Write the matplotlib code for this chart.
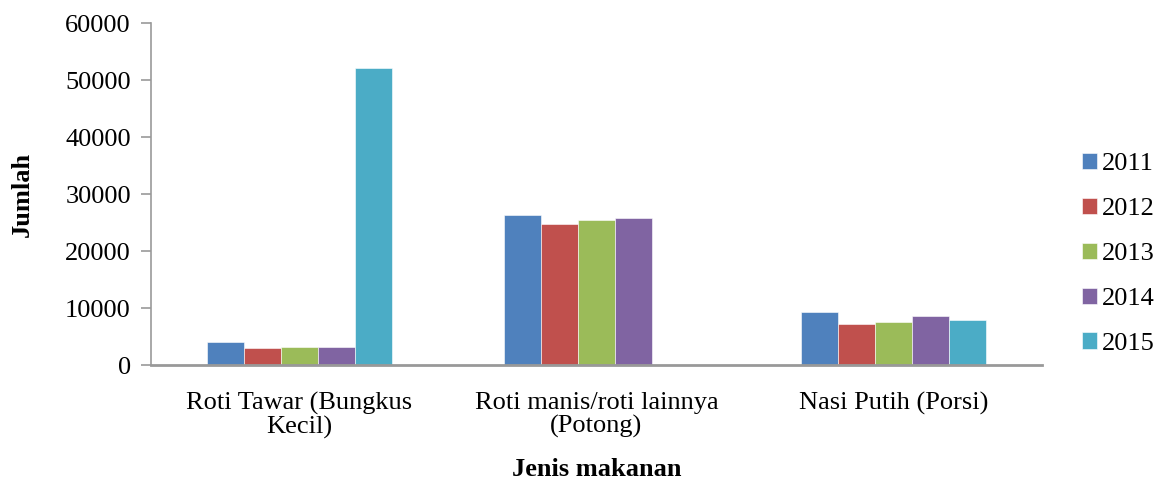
import matplotlib.pyplot as plt
import numpy as np

categories = ["Roti Tawar (Bungkus\nKecil)", "Roti manis/roti lainnya\n(Potong)", "Nasi Putih (Porsi)"]
years = ["2011", "2012", "2013", "2014", "2015"]
values = {
    "2011": [4100, 26400, 9300],
    "2012": [3100, 24900, 7300],
    "2013": [3250, 25450, 7550],
    "2014": [3200, 25800, 8650],
    "2015": [52200, 0, 7900],
}
colors = ["#4F81BD", "#C0504D", "#9BBB59", "#8064A2", "#4BACC6"]

plt.rcParams['font.family'] = ['Liberation Serif', 'DejaVu Serif']

fig = plt.figure(figsize=(11.57, 4.79), dpi=100)
ax = fig.add_axes([0.1305, 0.237, 0.77, 0.714])

x = np.arange(len(categories))
width = 0.1245
for i, yr in enumerate(years):
    offs = (i - 2) * width
    ax.bar(x + offs, values[yr], width, color=colors[i], label=yr,
           edgecolor="white", linewidth=0.4)

ax.set_xlim(-0.5, 2.5)
ax.set_ylim(0, 60000)
ax.set_yticks(np.arange(0, 60001, 10000))
ax.set_xticks(x)
ax.set_xticklabels(categories, fontsize=19, linespacing=1.08)
ax.tick_params(axis='y', labelsize=19, length=7, color="#999999", width=1.2, pad=7.5)
ax.tick_params(axis='x', length=0, pad=19)

for s in ["top", "right"]:
    ax.spines[s].set_visible(False)
ax.spines["left"].set_color("#999999")
ax.spines["bottom"].set_color("#999999")
ax.spines["left"].set_linewidth(1.2)
ax.spines["bottom"].set_linewidth(2)

ax.set_ylabel("Jumlah", fontsize=19, fontweight="bold", labelpad=22.5)
ax.set_xlabel("Jenis makanan", fontsize=19, fontweight="bold", labelpad=13)

fig.legend(loc="center left", bbox_to_anchor=(0.9236, 0.47), frameon=False,
           fontsize=19, handlelength=0.57, handleheight=0.57, handletextpad=0.2,
           labelspacing=0.85, borderpad=0)

fig.savefig("out.png", dpi=100)
